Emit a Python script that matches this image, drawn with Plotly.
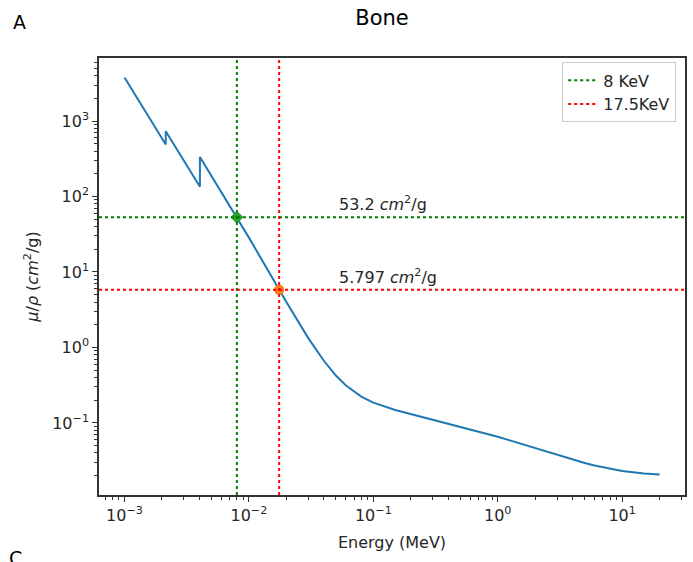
import math
import plotly.graph_objects as go

# Mass attenuation coefficient of cortical bone (photon energy in MeV, mu/rho in cm^2/g)
energy_mev = [
    1.0e-3, 1.305e-3, 1.305e-3, 1.5e-3, 2.0e-3, 2.1455e-3, 2.1455e-3,
    2.472e-3, 2.472e-3, 3.0e-3, 4.0e-3, 4.0381e-3, 4.0381e-3, 5.0e-3,
    6.0e-3, 8.0e-3, 1.0e-2, 1.5e-2, 2.0e-2, 3.0e-2, 4.0e-2, 5.0e-2,
    6.0e-2, 8.0e-2, 0.1, 0.15, 0.2, 0.3, 0.4, 0.5, 0.6, 0.8, 1.0,
    1.25, 1.5, 2.0, 3.0, 4.0, 5.0, 6.0, 8.0, 10.0, 15.0, 20.0,
]
mu_rho = [
    3781, 1840, 1900, 1303, 600, 490, 731,
    498, 505, 300, 138, 134.6, 333, 188,
    115, 53.2, 28.5, 9.03, 4.00, 1.33, 0.666, 0.424,
    0.315, 0.223, 0.186, 0.148, 0.131, 0.111, 0.0991, 0.0902, 0.0833, 0.0731, 0.0657,
    0.0587, 0.0535, 0.0461, 0.0375, 0.0326, 0.0295, 0.0273, 0.0247, 0.0231, 0.0213, 0.0207,
]

# Reference energies (MeV) and the coefficients read there
ref_energy = [0.008, 0.0175]
ref_mu = [53.2, 5.797]
ref_names = ["8 KeV", "17.5KeV"]
ref_line_colors = ["#008000", "#ff0000"]
ref_marker_colors = ["#2ca02c", "#ff7f0e"]
ref_marker_symbols = ["diamond", "circle"]

x_tick_vals = [1e-3, 1e-2, 1e-1, 1e0, 1e1]
x_tick_text = ["10<sup>−3</sup>", "10<sup>−2</sup>", "10<sup>−1</sup>", "10<sup>0</sup>", "10<sup>1</sup>"]
y_tick_vals = [1e-1, 1e0, 1e1, 1e2, 1e3]
y_tick_text = ["10<sup>−1</sup>", "10<sup>0</sup>", "10<sup>1</sup>", "10<sup>2</sup>", "10<sup>3</sup>"]

# minor tick positions: 2..9 times each power of ten
x_minor = [m * 10.0 ** p for p in range(-4, 2) for m in range(2, 10)]
y_minor = [m * 10.0 ** p for p in range(-3, 4) for m in range(2, 10)]

FONT = "DejaVu Sans, Liberation Sans, sans-serif"
TXT = "#262626"
AX = "#333333"

W, H = 693, 562
L, R, T, B = 99, 6, 58, 67
pw, ph = W - L - R, H - T - B


def px_to_paper(px, py):
    return (px - L) / pw, (H - B - py) / ph


fig = go.Figure()

fig.add_trace(go.Scatter(
    x=energy_mev, y=mu_rho, mode="lines",
    line=dict(color="#1f77b4", width=2), showlegend=False, hoverinfo="skip",
))

shapes = []
annotations = []
for e, m, name, lc, mc, sym in zip(ref_energy, ref_mu, ref_names,
                                   ref_line_colors, ref_marker_colors, ref_marker_symbols):
    # full-span dotted guide lines
    shapes.append(dict(type="line", xref="x", yref="paper", x0=e, x1=e, y0=0, y1=1,
                       line=dict(color=lc, width=2, dash="dot"), layer="above"))
    shapes.append(dict(type="line", xref="paper", yref="y", x0=0, x1=1, y0=m, y1=m,
                       line=dict(color=lc, width=2, dash="dot"), layer="above"))
    # legend entry
    fig.add_trace(go.Scatter(x=[None], y=[None], mode="lines", name=name,
                             line=dict(color=lc, width=2, dash="dot")))
    # intersection marker
    fig.add_trace(go.Scatter(x=[e], y=[m], mode="markers", showlegend=False,
                             marker=dict(color=mc, size=10, symbol=sym), hoverinfo="skip"))
    # value label
    annotations.append(dict(
        x=-1.29, y=math.log10(m * 1.52), xref="x", yref="y",
        text=f"{m:g} <i>cm</i><sup>2</sup>/g", showarrow=False,
        xanchor="left", yanchor="middle",
        font=dict(family=FONT, size=16, color=TXT),
    ))

# panel letters
for letter, (lx, ly) in (("A", (19, 22)), ("C", (15, 558))):
    ax_, ay_ = px_to_paper(lx, ly)
    annotations.append(dict(x=ax_, y=ay_, xref="paper", yref="paper", text=letter,
                            showarrow=False, xanchor="center", yanchor="middle",
                            font=dict(family=FONT, size=19, color="black")))

fig.update_layout(
    width=W, height=H,
    margin=dict(l=L, r=R, t=T, b=B, pad=0),
    paper_bgcolor="white", plot_bgcolor="white",
    font=dict(family=FONT, size=16, color=TXT),
    title=dict(text="Bone", x=px_to_paper(383, 0)[0], xref="paper", xanchor="center",
               y=1 - 18 / H, yanchor="middle",
               font=dict(family=FONT, size=21, color="black")),
    shapes=shapes,
    annotations=annotations,
    showlegend=True,
    legend=dict(x=0.985, y=0.99, xanchor="right", yanchor="top",
                bgcolor="rgba(255,255,255,0.8)", bordercolor="#cccccc", borderwidth=1,
                font=dict(family=FONT, size=16, color=TXT),
                itemwidth=30, tracegroupgap=0),
    xaxis=dict(
        type="log", range=[-3.205, 1.505],
        tickmode="array", tickvals=x_tick_vals, ticktext=x_tick_text,
        ticks="outside", ticklen=5, tickwidth=1, tickcolor=AX,
        minor=dict(tickmode="array", tickvals=x_minor, ticks="outside", ticklen=3,
                   tickwidth=1, tickcolor=AX, showgrid=False),
        showgrid=False, zeroline=False,
        showline=True, linecolor=AX, linewidth=1.5, mirror=True,
        title=dict(text="Energy (MeV)", font=dict(family=FONT, size=16, color=TXT), standoff=13),
        tickfont=dict(family=FONT, size=16, color=TXT),
    ),
    yaxis=dict(
        type="log", range=[-1.955, 3.835],
        tickmode="array", tickvals=y_tick_vals, ticktext=y_tick_text,
        ticks="outside", ticklen=5, tickwidth=1, tickcolor=AX,
        minor=dict(tickmode="array", tickvals=y_minor, ticks="outside", ticklen=3,
                   tickwidth=1, tickcolor=AX, showgrid=False),
        showgrid=False, zeroline=False,
        showline=True, linecolor=AX, linewidth=1.5, mirror=True,
        title=dict(text="<i>μ</i>/<i>ρ</i> (<i>cm</i><sup>2</sup>/g)",
                   font=dict(family=FONT, size=16, color=TXT), standoff=10),
        tickfont=dict(family=FONT, size=16, color=TXT),
    ),
)

fig.write_html("out.html")
